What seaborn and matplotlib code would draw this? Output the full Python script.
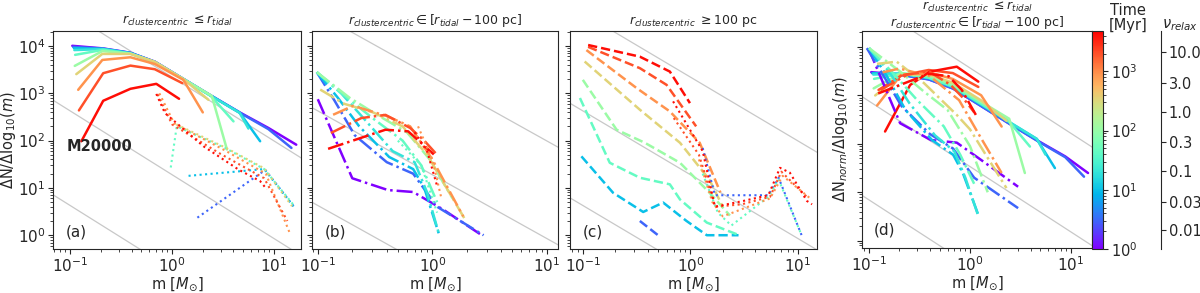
import numpy as np
import pandas as pd
import matplotlib
matplotlib.use('Agg')
import matplotlib.pyplot as plt
import seaborn as sns
from matplotlib.colors import LogNorm
from matplotlib.cm import ScalarMappable

# colour scale (time in Myr) and relaxation-time conversion
TIME_MIN, TIME_MAX = 1, 4800
MYR_PER_NU = 210.0

# grey reference power laws, dN/dlog m = A * m**slope
guide_slope = -1.35
guide_amp_abc = [2200, 19, 0.19]
guide_amp_d = [3700, 34, 0.31]

# ---- panel (a): bound stars (solid) and remnants (dotted)
a_solid_t = [1, 3, 10, 20, 45, 110, 350, 900, 2000, 4200]
a_solid_m = [
    [0.105, 0.21, 0.39, 0.68, 1.29, 2.4, 4.6, 8.8, 16.5],
    [0.107, 0.21, 0.39, 0.68, 1.29, 2.4, 4.6, 8.8, 14.8],
    [0.109, 0.21, 0.39, 0.68, 1.29, 2.4, 4.6, 7.3],
    [0.110, 0.21, 0.39, 0.68, 1.29, 2.4, 4.6, 5.6],
    [0.112, 0.21, 0.39, 0.68, 1.29, 2.4, 4.0],
    [0.111, 0.207, 0.39, 0.68, 1.29, 2.45, 3.45],
    [0.115, 0.207, 0.39, 0.676, 1.29, 2.27],
    [0.120, 0.207, 0.39, 0.676, 1.29, 2.0],
    [0.122, 0.211, 0.39, 0.676, 1.26],
    [0.129, 0.211, 0.39, 0.70, 1.17],
]
a_solid_y = [
    [10100, 8900, 7200, 4650, 2020, 900, 395, 185, 82],
    [9600, 8800, 7150, 4620, 2010, 895, 390, 175, 70],
    [9000, 8700, 7100, 4600, 2000, 890, 390, 97],
    [8200, 8600, 7000, 4550, 2000, 885, 385, 180],
    [6500, 8300, 6900, 4500, 2000, 880, 255],
    [3800, 7800, 6900, 4500, 2000, 885, 65],
    [2540, 6800, 6800, 4650, 2000, 730],
    [1185, 5070, 5780, 4170, 1925, 395],
    [435, 2660, 3850, 3230, 1640],
    [97, 695, 1245, 1585, 766],
]
a_dot_t = [3, 10, 45, 350, 900, 2000, 4200]
a_dot_m = [
    [1.77, 8.2, 15.5],
    [1.45, 8.0, 15.5],
    [0.97, 1.11, 3.3, 8.0, 15.9],
    [1.1, 3.3, 8.0, 15.0],
    [0.75, 1.05, 3.3, 8.3, 14.4],
    [0.72, 1.0, 3.0, 8.0, 13.5],
    [0.70, 0.85, 2.03, 4.47, 7.3, 8.5],
]
a_dot_y = [
    [2.35, 24, 4.1],
    [18, 25, 4.1],
    [27, 200, 70, 25, 4.1],
    [220, 72, 26, 4.1],
    [1000, 230, 62, 20, 1.05],
    [950, 220, 52, 16, 2.0],
    [970, 383, 76, 24.5, 13.9, 9.3],
]

# ---- panel (b): tidal radius to 100 pc (dash-dot, dotted)
b_dd_t = [1, 3, 10, 20, 45, 110, 350, 900, 2000, 4200]
b_dd_m = [
    [0.10, 0.20, 0.41, 0.68, 1.24, 2.7],
    [0.098, 0.14, 0.21, 0.40, 0.68, 1.1, 2.8],
    [0.098, 0.15, 0.23, 0.42, 0.68, 0.85, 1.15],
    [0.098, 0.16, 0.25, 0.45, 0.70, 0.9, 1.15],
    [0.098, 0.17, 0.30, 0.55, 0.80, 1.1],
    [0.098, 0.19, 0.33, 0.60, 0.95, 1.5],
    [0.105, 0.17, 0.30, 0.55, 0.90, 1.92],
    [0.136, 0.204, 0.40, 0.64, 1.0, 1.86],
    [0.13, 0.24, 0.39, 0.64, 0.85, 1.1],
    [0.123, 0.39, 0.615, 0.83, 1.03],
]
b_dd_y = [
    [750, 16, 9, 8.2, 3.5, 1.0],
    [2800, 700, 130, 35, 20, 4, 1.0],
    [2800, 800, 200, 45, 25, 10, 1.0],
    [2800, 1000, 300, 60, 35, 8, 1.0],
    [2800, 900, 300, 100, 30, 5],
    [2800, 800, 350, 150, 40, 6],
    [1200, 600, 400, 200, 50, 2.2],
    [352, 545, 330, 200, 40, 2.5],
    [145, 300, 350, 185, 100, 50],
    [67, 170, 157, 82, 51],
]
b_dot_t = [45, 900, 4200]
b_dot_m = [[0.5, 0.8, 1.1], [0.75, 1.0, 1.2], [0.7, 0.9, 1.1]]
b_dot_y = [[100, 30, 3], [200, 40, 6], [150, 60, 11]]

# ---- panel (c): beyond 100 pc (dashed, dotted)
c_dash_t = [3, 10, 45, 110, 350, 900, 2000, 4200]
c_dash_m = [
    [0.339, 0.5],
    [0.097, 0.191, 0.364, 0.558, 0.92, 1.42, 2.8],
    [0.094, 0.178, 0.339, 0.644, 0.8, 1.42, 2.69],
    [0.10, 0.206, 0.377, 0.8, 1.5, 2.33],
    [0.104, 0.339, 0.8, 1.5, 2.0],
    [0.108, 0.316, 0.644, 1.22, 1.9],
    [0.112, 0.339, 0.60, 1.13],
    [0.112, 0.339, 0.644, 0.99],
]
c_dash_y = [
    [2.0, 1.0],
    [46.5, 7.9, 3.1, 4.9, 2.0, 1.0, 1.0],
    [795, 34, 16.4, 11.9, 5.7, 1.85, 1.05],
    [1925, 170, 90, 34, 8, 2.6],
    [4700, 450, 90, 15, 4],
    [8200, 1290, 414, 90, 8],
    [9600, 3400, 1510, 200],
    [10500, 5950, 2880, 620],
]
c_dot_t = [3, 45, 900, 2000, 4200]
c_dot_m = [
    [1.30, 1.69, 5.3, 6.6, 10.8],
    [1.3, 1.8, 2.4, 5.3, 6.6, 10.8],
    [1.2, 1.6, 2.0, 5.5, 7.2, 13.0],
    [0.7, 1.2, 1.7, 3.0, 5.5, 7.0, 12.5],
    [0.69, 1.3, 1.69, 3.1, 5.3, 6.8, 8.4, 12.1, 13.5],
]
c_dot_y = [
    [70, 7, 7, 16.4, 1.0],
    [20, 3, 1.6, 6.5, 15, 1.0],
    [40, 5, 2.5, 6, 18, 6],
    [300, 50, 4, 4.5, 6.5, 22, 6],
    [675, 60, 4.0, 5.3, 7.0, 26.6, 21, 5.3, 4.5],
]

# ---- panel (d): normalised (solid = bound, dash-dot = tidal-100 pc)
d_solid_t = [1, 3, 10, 20, 45, 110, 350, 900, 2000, 4200]
d_solid_m = [
    [0.105, 0.21, 0.39, 0.68, 1.29, 2.4, 4.6, 8.8, 14.8],
    [0.107, 0.21, 0.39, 0.68, 1.29, 2.4, 4.6, 8.8, 13.5],
    [0.109, 0.21, 0.39, 0.68, 1.29, 2.4, 4.6, 6.95],
    [0.110, 0.21, 0.39, 0.68, 1.29, 2.4, 4.6, 5.6],
    [0.112, 0.21, 0.39, 0.68, 1.29, 2.4, 3.93],
    [0.111, 0.207, 0.39, 0.68, 1.29, 2.45, 3.5],
    [0.115, 0.207, 0.39, 0.676, 1.29, 2.3],
    [0.120, 0.207, 0.39, 0.676, 1.29, 2.06],
    [0.124, 0.211, 0.39, 0.676, 1.21],
    [0.144, 0.255, 0.40, 0.74, 1.21],
]
d_solid_y = [
    [3030, 2670, 2160, 1395, 606, 270, 119, 55, 25],
    [2880, 2640, 2145, 1386, 603, 268, 117, 53, 21],
    [2900, 2800, 2290, 1480, 645, 287, 126, 31.6],
    [2700, 2840, 2310, 1500, 660, 292, 127, 60],
    [2200, 2830, 2350, 1530, 680, 300, 88],
    [1400, 2900, 2560, 1670, 740, 330, 25],
    [1000, 2700, 2700, 1840, 790, 300],
    [620, 2650, 3030, 2190, 1010, 228],
    [1300, 2600, 3360, 2900, 1500],
    [180, 1645, 3100, 3930, 1930],
]
d_dd_t = [1, 3, 10, 20, 45, 110, 350, 900, 2000, 4200]
d_dd_m = [
    [0.0985, 0.203, 0.41, 0.74, 1.36, 3.0],
    [0.095, 0.14, 0.21, 0.40, 0.68, 1.1, 3.0],
    [0.10, 0.15, 0.23, 0.42, 0.68, 0.85, 1.21],
    [0.10, 0.16, 0.25, 0.45, 0.70, 0.90, 1.2],
    [0.10, 0.17, 0.30, 0.55, 0.80, 1.1],
    [0.10, 0.20, 0.35, 0.60, 1.0, 1.5],
    [0.12, 0.188, 0.35, 0.74, 1.0, 2.3],
    [0.136, 0.20, 0.40, 0.78, 1.24, 2.06],
    [0.13, 0.24, 0.39, 0.64, 0.85, 1.1],
    [0.123, 0.39, 0.615, 0.83, 1.17],
]
d_dd_y = [
    [9500, 267, 120, 106, 43, 13],
    [9500, 2500, 600, 160, 80, 20, 4.7],
    [9500, 2500, 500, 120, 60, 25, 3.4],
    [9500, 3000, 700, 150, 70, 20, 3.4],
    [9500, 3000, 800, 230, 60, 15],
    [9500, 3200, 1200, 500, 90, 10],
    [4500, 4980, 1800, 396, 200, 12.2],
    [3000, 3600, 2500, 800, 150, 25],
    [1300, 2700, 3150, 1660, 900, 450],
    [1100, 2800, 2500, 1300, 365],
]

nu_ticks = [10, 3, 1, 0.3, 0.1, 0.03, 0.01]
nu_ticklabels = ['10.0', '3.0', '1.0', '0.3', '0.1', '0.03', '0.01']

panel_titles = [
    r'$r_{clustercentric}$ $\leq$$r_{tidal}$',
    r'$r_{clustercentric} \in [r_{tidal} - 100$ pc]',
    r'$r_{clustercentric}$ $\geq$100 pc',
    r'$r_{clustercentric}$ $\leq$$r_{tidal}$' + '\n' + r'$r_{clustercentric} \in [r_{tidal} - 100$ pc]',
]
panel_tags = ['(a)', '(b)', '(c)', '(d)']

norm = LogNorm(vmin=TIME_MIN, vmax=TIME_MAX)


def to_frame(times, ms, ys):
    rows = []
    for k, (t, m, y) in enumerate(zip(times, ms, ys)):
        for mi, yi in zip(m, y):
            rows.append((k, t, mi, yi))
    return pd.DataFrame(rows, columns=['line', 'time', 'm', 'dn'])


def draw(ax, times, ms, ys, ls, lw):
    df = to_frame(times, ms, ys)
    sns.lineplot(data=df, x='m', y='dn', hue='time', units='line',
                 estimator=None, sort=False, palette='rainbow',
                 hue_norm=norm, linestyle=ls, lw=lw, legend=False, ax=ax)


def guides(ax, amps):
    mm = np.array([0.03, 40.0])
    for a in amps:
        ax.plot(mm, a * mm ** guide_slope, color='#c8c8c8', lw=0.9, zorder=0)


sns.set_style('ticks')
plt.rcParams['font.family'] = ['DejaVu Sans']
plt.rcParams['mathtext.fontset'] = 'dejavusans'

fig = plt.figure(figsize=(12, 2.93), dpi=100)
ax_a = fig.add_axes([0.0442, 0.150, 0.2067, 0.744])
ax_b = fig.add_axes([0.2600, 0.150, 0.2050, 0.744])
ax_c = fig.add_axes([0.4750, 0.150, 0.2058, 0.744])
ax_d = fig.add_axes([0.7183, 0.155, 0.1917, 0.739])
cax = fig.add_axes([0.9100, 0.150, 0.0092, 0.744])
nax = fig.add_axes([0.9675, 0.150, 0.0001, 0.744])

draw(ax_a, a_solid_t, a_solid_m, a_solid_y, '-', 1.8)
draw(ax_a, a_dot_t, a_dot_m, a_dot_y, ':', 1.5)
draw(ax_b, b_dd_t, b_dd_m, b_dd_y, '-.', 1.8)
draw(ax_b, b_dot_t, b_dot_m, b_dot_y, ':', 1.5)
draw(ax_c, c_dash_t, c_dash_m, c_dash_y, '--', 1.8)
draw(ax_c, c_dot_t, c_dot_m, c_dot_y, ':', 1.5)
draw(ax_d, d_solid_t, d_solid_m, d_solid_y, '-', 1.8)
draw(ax_d, d_dd_t, d_dd_m, d_dd_y, '-.', 1.8)

xlims = [(0.068, 18.4), (0.089, 12.5), (0.076, 15.0), (0.085, 16.2)]
ylims = [(0.51, 20700)] * 3 + [(0.72, 21400)]
for i, ax in enumerate([ax_a, ax_b, ax_c, ax_d]):
    guides(ax, guide_amp_d if i == 3 else guide_amp_abc)
    ax.set_xscale('log')
    ax.set_yscale('log')
    ax.set_xlim(*xlims[i])
    ax.set_ylim(*ylims[i])
    if i == 3:
        ax.set_title(panel_titles[i], fontsize=9, pad=1, linespacing=1.0)
    else:
        ax.set_title(panel_titles[i], fontsize=9, pad=5)
    ax.set_xlabel(r'm [$M_{\odot}$]', fontsize=10.5, labelpad=0)
    ax.set_ylabel('')
    ax.tick_params(labelsize=11, pad=2)
    ax.text(0.05, 0.08, panel_tags[i], transform=ax.transAxes,
            fontsize=11, va='center')
    if i > 0:
        ax.tick_params(labelleft=False)

ax_a.set_ylabel(r'$\Delta$N/$\Delta$log$_{10}$($m$)', fontsize=10.5, labelpad=0)
ax_d.set_ylabel(r'$\Delta$N$_{norm}$/$\Delta$log$_{10}$($m$)', fontsize=10.5,
                labelpad=3)
ax_a.text(0.056, 0.47, 'M20000', transform=ax_a.transAxes, fontsize=10.5,
          fontweight='bold', va='center')

sm = ScalarMappable(norm=norm, cmap='rainbow')
cb = fig.colorbar(sm, cax=cax)
cb.ax.tick_params(labelsize=10.5, pad=2)
fig.text(0.94, 0.99, 'Time\n[Myr]', ha='center', va='top', fontsize=10.5,
         linespacing=1.0)

# relaxation-time axis
nax.set_yscale('log')
nax.set_ylim(TIME_MIN / MYR_PER_NU, TIME_MAX / MYR_PER_NU)
nax.set_yticks(nu_ticks)
nax.set_yticklabels(nu_ticklabels)
nax.yaxis.set_minor_locator(matplotlib.ticker.NullLocator())
nax.yaxis.tick_right()
nax.set_xticks([])
for s in ['top', 'bottom', 'left']:
    nax.spines[s].set_visible(False)
nax.tick_params(labelsize=10.5, pad=2)
fig.text(0.983, 0.915, r'$\nu_{relax}$', ha='center', va='center', fontsize=10.5)

fig.savefig('out.png', dpi=100)
